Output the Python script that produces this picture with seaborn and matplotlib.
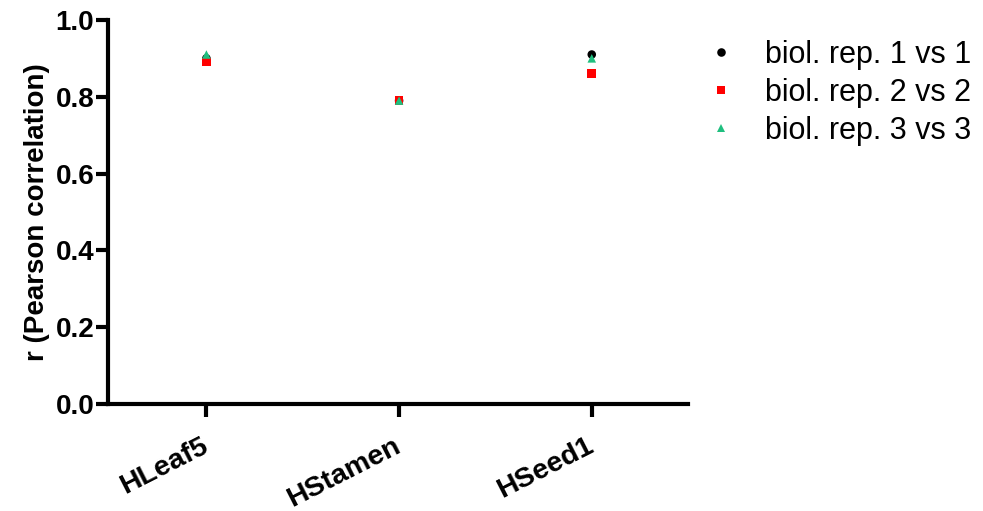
import numpy as np
import pandas as pd
import matplotlib
matplotlib.use("Agg")
import matplotlib.pyplot as plt
import seaborn as sns

tissues = ["HLeaf5", "HStamen", "HSeed1"]
rep1 = [0.90, 0.79, 0.91]
rep2 = [0.89, 0.79, 0.86]
rep3 = [0.91, 0.79, 0.90]
series_names = ["biol. rep. 1 vs 1", "biol. rep. 2 vs 2", "biol. rep. 3 vs 3"]

rows = []
for name, vals in zip(series_names, [rep1, rep2, rep3]):
    for i, (t, v) in enumerate(zip(tissues, vals)):
        rows.append({"pos": i, "tissue": t, "series": name, "r": v})
df = pd.DataFrame(rows)

sns.set_style("ticks", {"axes.edgecolor": "black", "text.color": "black",
                        "xtick.color": "black", "ytick.color": "black",
                        "axes.labelcolor": "black"})
plt.rcParams['font.family'] = ['Liberation Sans', 'DejaVu Sans']

fig = plt.figure(figsize=(9.83, 5.11), dpi=100)
ax = fig.add_axes([0.110, 0.209, 0.590, 0.752])

palette = {series_names[0]: "black", series_names[1]: "#ff0000", series_names[2]: "#1fbf7f"}
markers = {series_names[0]: "o", series_names[1]: "s", series_names[2]: "^"}
sns.scatterplot(data=df, x="pos", y="r", hue="series", style="series",
                palette=palette, markers=markers, s=38, linewidth=0, ax=ax)

ax.set_xlim(-0.51, 2.5)
ax.set_ylim(0, 1.0)
ax.set_xticks(range(len(tissues)))
ax.set_xticklabels(tissues, rotation=27, ha="right", va="center",
                   rotation_mode="anchor", fontsize=20.5, fontweight="bold")
ax.set_yticks(np.arange(0, 1.01, 0.2))
ax.set_yticklabels([f"{v:.1f}" for v in np.arange(0, 1.01, 0.2)],
                   fontsize=20, fontweight="bold")
ax.set_xlabel("")
ax.set_ylabel("r (Pearson correlation)", fontsize=20, fontweight="bold", labelpad=4)
sns.despine(ax=ax)
for s in ["left", "bottom"]:
    ax.spines[s].set_linewidth(3)
    ax.spines[s].set_color("black")
ax.tick_params(width=3, length=9, direction="out", pad=1, colors="black")
ax.tick_params(axis="x", pad=20)

ax.legend(loc="upper left", bbox_to_anchor=(0.956, 1.02), frameon=False,
          fontsize=22, markerscale=1.0, handletextpad=0.45, labelspacing=0.26)

fig.savefig("out.png", dpi=100)
